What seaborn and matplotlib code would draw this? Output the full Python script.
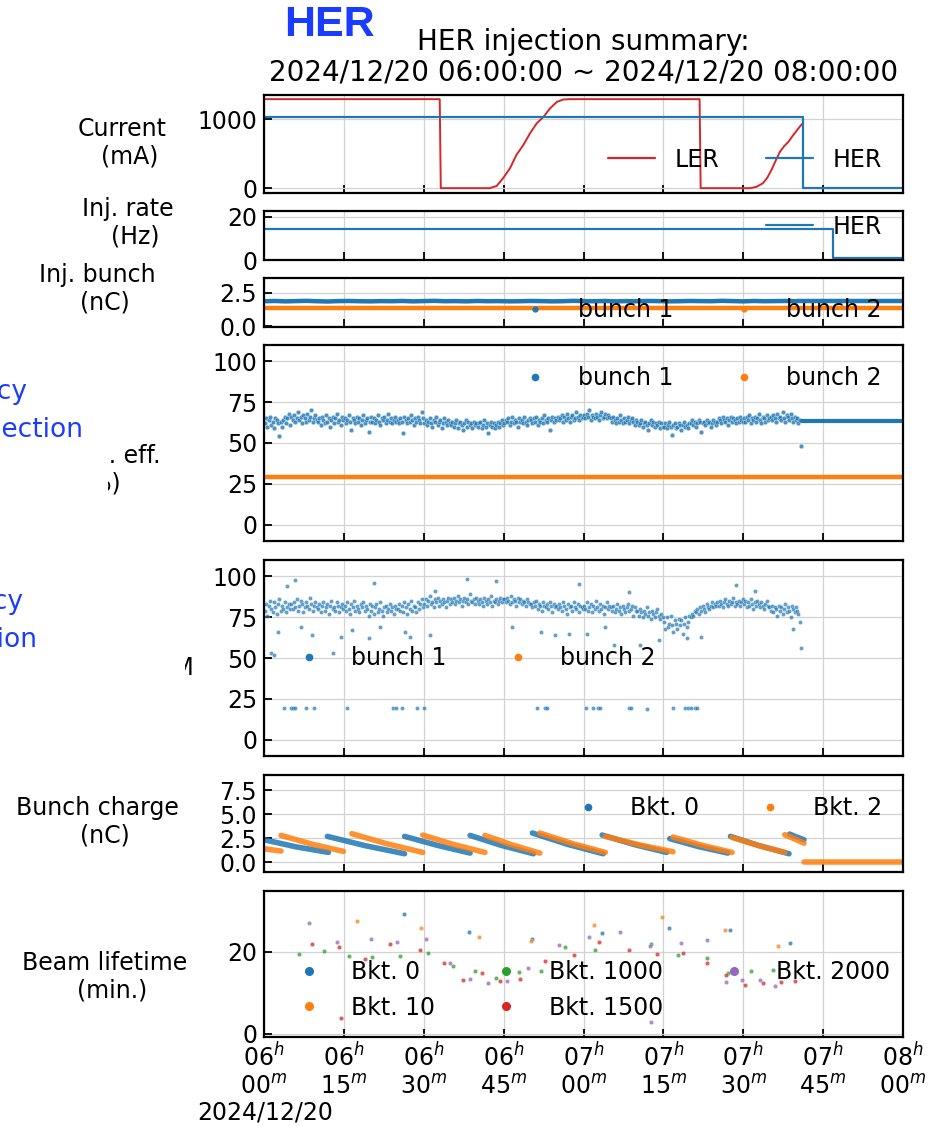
import numpy as np
import pandas as pd
import matplotlib
matplotlib.use("Agg")
import matplotlib.pyplot as plt
from matplotlib.lines import Line2D
from matplotlib.patches import Rectangle
import seaborn as sns

# All times are minutes after 2024/12/20 06:00:00.

# ---- stored current (mA) ----
LER_T = [0.0, 33.0, 33.2, 42.4, 43.7, 44.9, 46.2, 47.4, 48.7, 49.95, 51.2, 52.5, 53.7, 55.0,
         56.2, 57.5, 81.8, 82.0, 91.3, 92.5, 93.7, 94.5, 95.3, 96.1, 96.9, 97.7, 98.5, 99.3,
         100.2, 101.0]
LER_MA = [1290, 1290, 0, 0, 33, 144, 289, 481, 625, 794, 938, 1034, 1155, 1250,
          1285, 1290, 1290, 0, 0, 20, 72, 150, 264, 400, 529, 610, 673, 760,
          850, 928]
HER_T = [0.0, 101.2, 101.2, 120.0]
HER_MA = [1027, 1027, 0, 0]

# ---- injection rate (Hz) ----
RATE_T = [0.0, 106.8, 106.8, 120.0]
RATE_HZ = [14.3, 14.3, 0.8, 0.8]

# ---- injected bunch charge (nC), bunch 1 sampled every 2 min ----
QINJ_T = list(range(0, 102, 2))
QINJ_B1 = [1.86, 1.88, 1.85, 1.87, 1.89, 1.86, 1.84, 1.87, 1.88, 1.86,
           1.85, 1.87, 1.86, 1.88, 1.85, 1.87, 1.89, 1.86, 1.87, 1.85,
           1.88, 1.86, 1.87, 1.85, 1.86, 1.88, 1.87, 1.85, 1.86, 1.89,
           1.87, 1.86, 1.88, 1.85, 1.87, 1.86, 1.88, 1.87, 1.85, 1.86,
           1.88, 1.87, 1.86, 1.89, 1.87, 1.85, 1.88, 1.86, 1.87, 1.88, 1.86]
QINJ_B1_HOLD_T = [100.0, 120.0]
QINJ_B1_HOLD = [1.86, 1.86]
QINJ_B2_T = [0.0, 120.0]
QINJ_B2 = [1.37, 1.37]

# ---- injection efficiency samples (%), one every 15 s ----
EFF_T = np.arange(404) * 0.25 + 0.125
EFF1_B1 = [
    62, 65, 60, 64, 66, 61, 63, 59, 65, 64, 62, 54, 63, 60, 64, 66, 62, 65, 68, 61,
    66, 64, 67, 63, 65, 69, 64, 66, 62, 67, 65, 63, 68, 64, 66, 70, 63, 65, 67, 64,
    63, 65, 61, 66, 64, 62, 67, 63, 65, 60, 64, 66, 62, 65, 68, 63, 64, 61, 66, 64,
    65, 62, 64, 67, 63, 58, 65, 64, 62, 66, 63, 65, 61, 64, 67, 62, 64, 65, 57, 63,
    66, 63, 65, 62, 64, 67, 63, 61, 65, 64, 66, 62, 64, 68, 63, 65, 62, 64, 66, 63,
    64, 62, 65, 63, 56, 66, 64, 62, 65, 63, 67, 64, 61, 65, 63, 66, 64, 62, 69, 65,
    62, 64, 61, 63, 65, 62, 60, 64, 63, 66, 61, 63, 64, 59, 62, 65, 63, 61, 64, 62,
    61, 63, 60, 62, 64, 59, 62, 63, 61, 58, 62, 64, 60, 63, 61, 62, 59, 63, 61, 62,
    60, 62, 63, 59, 61, 64, 60, 62, 56, 61, 63, 60, 62, 59, 61, 63, 60, 62, 64, 61,
    62, 64, 63, 65, 61, 63, 66, 62, 64, 63, 60, 65, 63, 64, 62, 66, 63, 61, 64, 65,
    64, 62, 65, 63, 66, 61, 64, 63, 65, 62, 67, 64, 63, 65, 58, 64, 66, 63, 65, 64,
    66, 64, 65, 67, 63, 66, 64, 68, 65, 63, 66, 67, 64, 65, 69, 66, 64, 67, 65, 66,
    67, 65, 68, 66, 70, 64, 67, 66, 65, 68, 66, 64, 67, 69, 65, 66, 68, 65, 67, 66,
    65, 63, 66, 64, 62, 65, 63, 67, 64, 62, 65, 63, 64, 66, 62, 64, 65, 63, 61, 64,
    63, 61, 62, 64, 60, 62, 63, 61, 58, 62, 64, 61, 63, 60, 62, 61, 63, 59, 62, 60,
    60, 62, 59, 61, 63, 60, 55, 61, 62, 59, 60, 62, 61, 58, 61, 63, 60, 61, 59, 62,
    62, 64, 61, 63, 60, 62, 64, 63, 57, 62, 63, 61, 64, 62, 63, 60, 62, 64, 63, 61,
    63, 65, 64, 62, 66, 64, 63, 65, 61, 64, 66, 63, 65, 64, 62, 65, 63, 66, 64, 63,
    65, 63, 66, 64, 67, 62, 65, 64, 66, 63, 65, 68, 64, 62, 66, 65, 63, 67, 64, 65,
    66, 64, 67, 65, 63, 68, 65, 66, 64, 69, 65, 63, 67, 66, 64, 68, 65, 63, 66, 64,
    65, 62, 64, 48]
EFF1_B1_HOLD_T = [101.1, 120.0]
EFF1_B1_HOLD = [63.2, 63.2]
EFF1_B2_T = [0.0, 120.0]
EFF1_B2 = [29.1, 29.1]

EFF2_B1 = [
    79, 83, 76, 82, 85, 80, 78, 84, 81, 77, 83, 86, 79, 82, 80, 84, 78, 81, 83, 80,
    83, 80, 84, 81, 86, 79, 82, 85, 83, 78, 81, 84, 82, 80, 87, 83, 79, 82, 84, 81,
    80, 83, 78, 82, 84, 79, 81, 83, 77, 82, 85, 80, 81, 79, 84, 82, 78, 81, 83, 80,
    82, 79, 84, 80, 77, 83, 81, 85, 79, 82, 80, 78, 83, 81, 84, 79, 82, 80, 76, 83,
    79, 82, 77, 81, 83, 78, 80, 84, 79, 76, 81, 82, 78, 80, 83, 79, 81, 77, 82, 80,
    80, 83, 79, 82, 78, 84, 81, 77, 83, 80, 85, 79, 82, 81, 78, 84, 80, 83, 86, 81,
    83, 86, 82, 85, 88, 83, 84, 81, 86, 84, 87, 82, 85, 83, 86, 84, 81, 85, 87, 83,
    86, 84, 87, 83, 85, 88, 84, 86, 82, 85, 87, 84, 86, 83, 89, 85, 84, 86, 83, 87,
    85, 83, 86, 84, 82, 87, 85, 83, 86, 84, 88, 82, 85, 84, 86, 83, 85, 87, 84, 86,
    86, 84, 87, 85, 83, 88, 84, 86, 85, 82, 87, 84, 86, 83, 85, 84, 82, 86, 84, 83,
    83, 81, 84, 82, 85, 80, 83, 82, 79, 84, 82, 81, 83, 80, 84, 82, 78, 83, 81, 82,
    80, 83, 81, 79, 84, 82, 80, 77, 83, 81, 82, 79, 84, 81, 80, 83, 78, 82, 81, 80,
    82, 80, 84, 79, 81, 83, 78, 82, 80, 85, 81, 79, 83, 80, 82, 77, 81, 84, 80, 82,
    81, 79, 82, 78, 80, 83, 79, 81, 77, 82, 80, 78, 81, 83, 79, 80, 82, 76, 81, 79,
    79, 76, 80, 78, 75, 79, 77, 81, 76, 78, 74, 79, 77, 75, 78, 80, 76, 74, 77, 75,
    72, 68, 75, 69, 71, 76, 70, 66, 73, 71, 68, 74, 70, 73, 65, 71, 75, 69, 72, 76,
    75, 77, 76, 79, 78, 80, 77, 81, 79, 82, 80, 78, 83, 81, 80, 82, 84, 81, 83, 82,
    84, 82, 85, 83, 81, 84, 86, 83, 82, 85, 83, 84, 87, 82, 84, 83, 85, 82, 84, 86,
    83, 85, 81, 84, 82, 86, 83, 80, 84, 82, 85, 83, 81, 84, 82, 80, 83, 85, 82, 81,
    79, 82, 78, 81, 80, 76, 82, 79, 81, 77, 80, 83, 78, 81, 79, 75, 82, 80, 78, 81,
    79, 77, 72, 56]
EFF2_HIGH_T = [4.4, 5.8, 20.7, 32.2, 38.2, 43.5, 59.1, 68.6, 88.7, 92.2]
EFF2_HIGH = [94.0, 97.5, 96.0, 91.0, 98.5, 97.0, 95.5, 90.5, 94.5, 91.0]
EFF2_DIP_T = [1.4, 1.8, 13.0, 2.6, 7.0, 9.0, 14.5, 16.6, 19.7, 21.7, 26.4, 27.4, 31.2,
              46.6, 52.1, 54.7, 57.3, 60.7, 64.0, 65.7, 70.7, 74.1, 79.4, 82.1, 99.3]
EFF2_DIP = [53, 52, 53, 66, 69, 64, 63, 67, 62, 69, 66, 63, 64,
            69, 66, 64, 65, 65, 69, 58, 58, 61, 62, 63, 68]
EFF2_LOW_T = [3.8, 5.0, 5.4, 5.9, 7.9, 9.4, 15.5, 24.2, 24.7, 26.0, 28.7, 30.1, 51.2, 52.8,
              53.1, 60.4, 61.7, 62.7, 63.1, 68.5, 69.0, 71.9, 76.9, 79.0, 79.6, 80.1, 81.0, 81.3]
EFF2_LOW = [19.6, 19.4, 19.5, 19.5, 19.6, 19.5, 19.2, 19.1, 19.3, 19.2, 19.1, 19.3, 19.3, 19.6,
            19.5, 19.2, 19.3, 19.1, 19.2, 19.4, 19.4, 18.9, 19.3, 19.3, 19.3, 19.3, 19.4, 19.1]

# ---- stored bunch charge (nC): one fill per segment (start, middle, end) ----
BKT0_SEG_T = [[0.0, 6.0, 12.1], [11.9, 19.0, 26.4], [26.4, 32.5, 38.7], [38.7, 44.5, 50.6],
              [50.4, 57.0, 63.7], [63.5, 69.5, 75.6], [76.2, 81.5, 87.1], [87.6, 93.0, 98.6],
              [98.7, 100.0, 101.4]]
BKT0_SEG_Q = [[2.36, 1.62, 1.04], [2.71, 1.74, 0.90], [2.71, 1.78, 0.97], [2.81, 1.78, 0.90],
              [3.06, 1.88, 0.90], [2.85, 1.86, 1.04], [2.47, 1.66, 0.97], [2.71, 1.74, 0.90],
              [2.95, 2.65, 2.36]]
BKT2_SEG_T = [[0.0, 1.6, 3.2], [3.2, 9.0, 14.9], [16.5, 23.0, 29.8], [29.8, 35.6, 41.5],
              [41.5, 46.6, 51.8], [51.8, 58.0, 64.1], [64.1, 70.4, 76.8], [76.8, 82.3, 87.9],
              [87.9, 92.8, 97.8], [97.8, 99.6, 101.4], [101.4, 110.7, 120.0]]
BKT2_SEG_Q = [[1.42, 1.30, 1.18], [2.81, 1.90, 1.15], [2.99, 1.95, 1.04], [2.85, 1.86, 1.04],
              [2.81, 1.82, 0.97], [3.06, 1.95, 1.04], [2.71, 1.84, 1.11], [2.64, 1.78, 1.04],
              [2.60, 1.76, 1.04], [2.88, 2.45, 2.00], [0.0, 0.0, 0.0]]

# ---- beam lifetime (min) per bucket ----
LT_B0_T = [26.3, 38.5, 50.3, 63.4, 76.1, 87.6, 98.7]
LT_B0 = [29.2, 24.9, 23.2, 24.5, 25.7, 25.3, 22.1]
LT_B10_T = [17.4, 29.4, 40.4, 50.1, 61.9, 74.8, 86.5, 96.6]
LT_B10 = [27.4, 25.9, 23.7, 22.6, 26.5, 28.5, 25.3, 21.4]
LT_B1000_T = [6.5, 11.2, 16.0, 20.2, 25.5, 30.8, 35.5, 39.6, 43.5, 47.8, 52.1, 56.6, 62.2,
              72.6, 77.8, 83.1, 87.1, 91.4, 95.6]
LT_B1000 = [19.4, 20.2, 19.0, 18.7, 18.9, 19.7, 16.5, 15.4, 13.7, 15.1, 15.3, 21.1, 20.3,
            21.8, 19.1, 18.5, 14.7, 15.3, 15.5]
LT_B1500_T = [9.1, 14.0, 14.4, 18.9, 23.6, 29.3, 33.8, 37.4, 41.0, 44.4, 48.1, 52.8, 58.3,
              62.9, 68.5, 73.8, 78.6, 83.1, 86.8, 90.4, 93.8, 97.0, 99.8]
LT_B1500 = [21.8, 21.1, 3.9, 18.1, 21.9, 20.5, 17.3, 13.2, 14.9, 12.8, 13.3, 17.7, 19.2,
            22.3, 20.3, 19.4, 19.8, 17.2, 14.3, 12.0, 12.4, 12.6, 12.8]
LT_B2000_T = [8.4, 13.8, 20.0, 24.9, 30.5, 34.9, 38.6, 42.0, 45.6, 49.6, 55.4, 61.1, 66.8,
              72.5, 72.7, 78.4, 83.1, 86.8, 89.8, 93.1, 96.0]
LT_B2000 = [26.9, 22.4, 23.2, 22.4, 23.2, 17.2, 13.4, 12.4, 12.8, 16.1, 21.7, 23.5, 24.9,
            21.5, 2.9, 22.1, 22.8, 12.6, 13.2, 13.1, 11.7]

# ---- time axis ----
X_TICKS = [0, 15, 30, 45, 60, 75, 90, 105, 120]
X_TICK_LABELS = ["06$^{h}$\n00$^{m}$", "06$^{h}$\n15$^{m}$", "06$^{h}$\n30$^{m}$",
                 "06$^{h}$\n45$^{m}$", "07$^{h}$\n00$^{m}$", "07$^{h}$\n15$^{m}$",
                 "07$^{h}$\n30$^{m}$", "07$^{h}$\n45$^{m}$", "08$^{h}$\n00$^{m}$"]

BLUE, ORANGE, GREEN, RED, PURPLE = sns.color_palette("tab10")[:5]
TITLE_BLUE = "#1a3cff"
FS = 17

sns.set_style("ticks", rc={"text.color": "black", "axes.labelcolor": "black",
                           "xtick.color": "black", "ytick.color": "black"})
plt.rcParams["font.family"] = ["DejaVu Sans"]
plt.rcParams["font.size"] = FS

W_PX, H_PX = 943, 1126
fig = plt.figure(figsize=(W_PX / 100, H_PX / 100), dpi=100)


def fx(x):
    return x / W_PX


def fy(y):
    return 1 - y / H_PX


def add_panel(top, bottom):
    return fig.add_axes([fx(264), fy(bottom), fx(903) - fx(264), (bottom - top) / H_PX])


def style(ax, ylim, yticks, last=False):
    ax.set_xlim(0, 120)
    ax.set_ylim(*ylim)
    ax.set_yticks(yticks)
    ax.set_xticks(X_TICKS)
    if last:
        ax.set_xticklabels(X_TICK_LABELS)
    else:
        ax.tick_params(labelbottom=False)
    ax.grid(True, color="#d2d2d2", lw=0.9)
    ax.set_axisbelow(True)
    ax.tick_params(direction="in", length=6, width=1.3, labelsize=FS, top=False, right=False,
                   colors="black")
    ax.tick_params(axis="y", pad=5)
    ax.tick_params(axis="x", pad=4)
    for sp in ax.spines.values():
        sp.set_visible(True)
        sp.set_linewidth(1.6)
        sp.set_color("black")
    ax.set_xlabel("")
    ax.set_ylabel("")


def line_handle(color):
    return Line2D([], [], color=color, lw=1.6)


def dot_handle(color, ms=4.5):
    return Line2D([], [], ls="none", marker="o", color=color, markersize=ms)


def seg_frame(seg_t, seg_q):
    rows = [(k, t, q) for k, (ts, qs) in enumerate(zip(seg_t, seg_q)) for t, q in zip(ts, qs)]
    return pd.DataFrame(rows, columns=["seg", "t", "q"])


leg_kw = dict(frameon=False, fontsize=FS)

# 1) stored current
ax1 = add_panel(95, 193)
sns.lineplot(x=LER_T, y=LER_MA, ax=ax1, color=RED, lw=1.4, estimator=None, sort=False)
sns.lineplot(x=HER_T, y=HER_MA, ax=ax1, color=BLUE, lw=1.6, estimator=None, sort=False)
style(ax1, (-70, 1350), [0, 1000])
ax1.legend([line_handle(RED), line_handle(BLUE)], ["LER", "HER"], loc="lower right", ncol=2, **leg_kw)

# 2) injection rate
ax2 = add_panel(211, 260)
sns.lineplot(x=RATE_T, y=RATE_HZ, ax=ax2, color=BLUE, lw=1.6, estimator=None, sort=False)
style(ax2, (0, 22.6), [0, 20])
ax2.legend([line_handle(BLUE)], ["HER"], loc="lower right", **leg_kw)

# 3) injected bunch charge
ax3 = add_panel(278, 327)
sns.lineplot(x=QINJ_T, y=QINJ_B1, ax=ax3, color=BLUE, lw=3.2, estimator=None, sort=False)
sns.lineplot(x=QINJ_B1_HOLD_T, y=QINJ_B1_HOLD, ax=ax3, color=BLUE, lw=3.2, estimator=None)
sns.lineplot(x=QINJ_B2_T, y=QINJ_B2, ax=ax3, color=ORANGE, lw=3.2, estimator=None)
style(ax3, (-0.07, 3.6), [0.0, 2.5])
ax3.legend([dot_handle(BLUE, 3.5), dot_handle(ORANGE, 3.5)], ["bunch 1", "bunch 2"],
           loc="lower right", bbox_to_anchor=(1.0, -0.33), ncol=2, **leg_kw)

# 4) injection efficiency
ax4 = add_panel(345, 541)
sns.scatterplot(x=EFF_T, y=EFF1_B1, ax=ax4, color=BLUE, s=11, alpha=0.8, legend=False)
sns.lineplot(x=EFF1_B1_HOLD_T, y=EFF1_B1_HOLD, ax=ax4, color=BLUE, lw=3, estimator=None)
sns.lineplot(x=EFF1_B2_T, y=EFF1_B2, ax=ax4, color=ORANGE, lw=3.2, estimator=None)
style(ax4, (-10, 110), [0, 25, 50, 75, 100])
ax4.legend([dot_handle(BLUE), dot_handle(ORANGE)], ["bunch 1", "bunch 2"],
           loc="upper right", ncol=2, **leg_kw)

# 5) injection efficiency, second monitor
ax5 = add_panel(560, 756)
for tt, vv in ((EFF_T, EFF2_B1), (EFF2_HIGH_T, EFF2_HIGH), (EFF2_DIP_T, EFF2_DIP), (EFF2_LOW_T, EFF2_LOW)):
    sns.scatterplot(x=tt, y=vv, ax=ax5, color=BLUE, s=9, alpha=0.7, legend=False)
style(ax5, (-10, 110), [0, 25, 50, 75, 100])
ax5.legend([dot_handle(BLUE), dot_handle(ORANGE)], ["bunch 1", "bunch 2"],
           loc="center left", ncol=2, **leg_kw)

# 6) stored bunch charge
ax6 = add_panel(775, 872)
sns.lineplot(data=seg_frame(BKT0_SEG_T, BKT0_SEG_Q), x="t", y="q", units="seg", estimator=None,
             sort=False, ax=ax6, color=BLUE, lw=4, alpha=0.85)
sns.lineplot(data=seg_frame(BKT2_SEG_T, BKT2_SEG_Q), x="t", y="q", units="seg", estimator=None,
             sort=False, ax=ax6, color=ORANGE, lw=4, alpha=0.85)
style(ax6, (-1.0, 9.1), [0.0, 2.5, 5.0, 7.5])
ax6.legend([dot_handle(BLUE), dot_handle(ORANGE)], ["Bkt. 0", "Bkt. 2"],
           loc="upper right", ncol=2, **leg_kw)

# 7) beam lifetime
ax7 = add_panel(891, 1037)
lt_series = [(LT_B0_T, LT_B0, BLUE, "Bkt. 0"), (LT_B10_T, LT_B10, ORANGE, "Bkt. 10"),
             (LT_B1000_T, LT_B1000, GREEN, "Bkt. 1000"), (LT_B1500_T, LT_B1500, RED, "Bkt. 1500"),
             (LT_B2000_T, LT_B2000, PURPLE, "Bkt. 2000")]
for tt, vv, col, _ in lt_series:
    sns.scatterplot(x=tt, y=vv, ax=ax7, color=col, s=10, alpha=0.75, legend=False)
style(ax7, (-0.8, 34.8), [0, 20], last=True)
ax7.legend([dot_handle(c, 5.5) for _, _, c, _ in lt_series], [lab for *_, lab in lt_series],
           loc="lower left", bbox_to_anchor=(0.0, -0.027), ncol=3, **leg_kw)

# ---- figure texts ----
fig.text(fx(329), fy(25), "HER", fontsize=31, fontweight="bold", color=TITLE_BLUE,
         family=["Liberation Sans", "DejaVu Sans"], ha="center", va="center")
fig.text(fx(583.5), fy(57), "HER injection summary:\n2024/12/20 06:00:00 ~ 2024/12/20 08:00:00",
         ha="center", va="center", fontsize=20, linespacing=1.1)
fig.text(fx(265), fy(1112), "2024/12/20", ha="center", va="center", fontsize=FS)

side_labels = [(122, 143, "Current\n  (mA)"), (128, 222.5, "Inj. rate\n  (Hz)"),
               (97.5, 288.5, "Inj. bunch\n  (nC)"), (97.5, 822, "Bunch charge\n  (nC)"),
               (104.5, 977, "Beam lifetime\n  (min.)")]
for x, y, s in side_labels:
    fig.text(fx(x), fy(y), s, ha="center", va="center", multialignment="center", fontsize=FS)

# efficiency axis labels, partly covered by the note boxes
fig.text(fx(80), fy(470), "Inj. eff.\n(%)", ha="left", va="center", multialignment="left", fontsize=FS)
fig.text(fx(194), fy(668), "Capture eff. BPM", ha="right", va="center", fontsize=FS)
fig.add_artist(Rectangle((0, fy(505)), fx(108), (505 - 365) / H_PX, transform=fig.transFigure,
                         facecolor="white", edgecolor="none", zorder=4))
fig.add_artist(Rectangle((0, fy(700)), fx(184.5), (700 - 580) / H_PX, transform=fig.transFigure,
                         facecolor="white", edgecolor="none", zorder=4))
fig.text(fx(-101), fy(411), "Efficiency\nafter injection", ha="left", va="center",
         multialignment="left", fontsize=19, color=TITLE_BLUE, linespacing=1.58, zorder=5)
fig.text(fx(-105), fy(621), "Efficiency\nat collision", ha="left", va="center",
         multialignment="left", fontsize=19, color=TITLE_BLUE, linespacing=1.58, zorder=5)

fig.savefig("out.png", dpi=100)
